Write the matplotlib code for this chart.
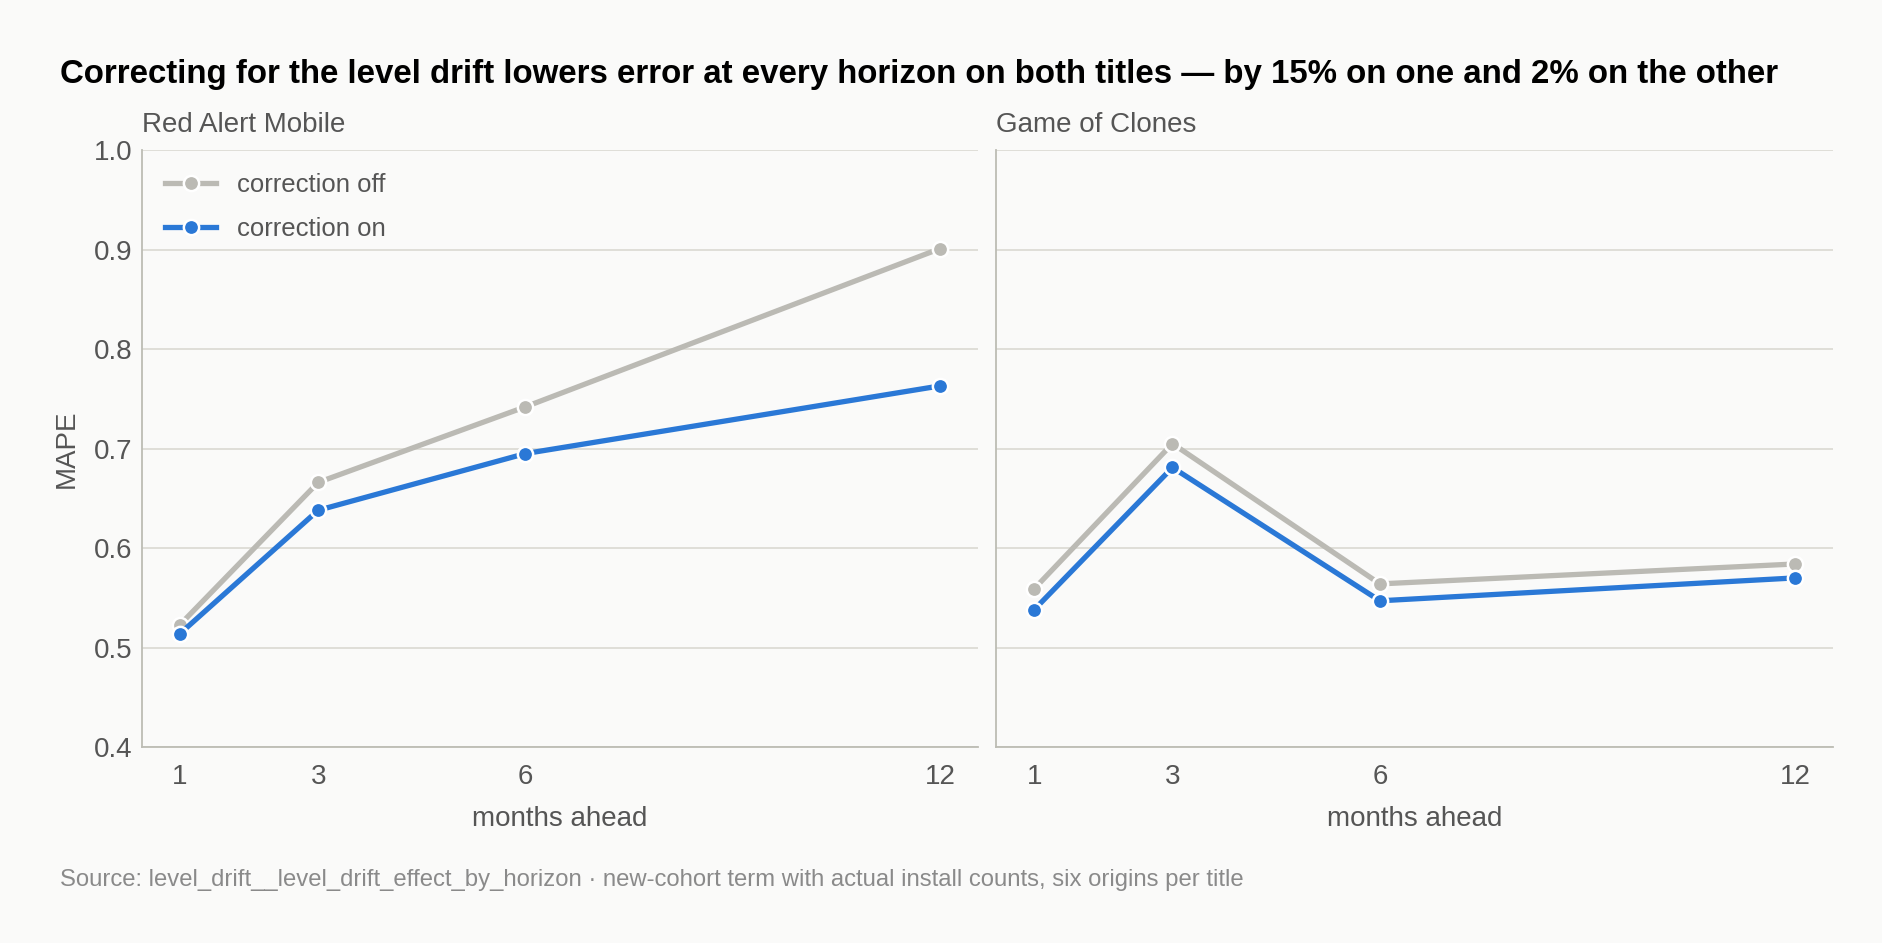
import matplotlib.pyplot as plt

plt.rcParams['font.family'] = ['Liberation Sans', 'DejaVu Sans']

horizons = [1, 3, 6, 12]
titles = ['Red Alert Mobile', 'Game of Clones']
mape_off = {
    'Red Alert Mobile': [0.523, 0.666, 0.742, 0.901],
    'Game of Clones': [0.559, 0.705, 0.564, 0.584],
}
mape_on = {
    'Red Alert Mobile': [0.514, 0.638, 0.695, 0.763],
    'Game of Clones': [0.538, 0.681, 0.547, 0.570],
}
y_ticks = [0.4, 0.5, 0.6, 0.7, 0.8, 0.9, 1.0]

bg = '#fafaf9'
grey = '#bbbab4'
blue = '#2a78d6'
text_col = '#555555'

fig = plt.figure(figsize=(18.83, 9.43), dpi=100, facecolor=bg)
ax_left = fig.add_axes([0.0754, 0.2078, 0.444, 0.633])
ax_right = fig.add_axes([0.529, 0.2078, 0.4444, 0.633])

for ax, name in zip([ax_left, ax_right], titles):
    ax.set_facecolor(bg)
    ax.plot(horizons, mape_off[name], color=grey, lw=3.8, marker='o', ms=11,
            mec='white', mew=1.8, label='correction off', zorder=3)
    ax.plot(horizons, mape_on[name], color=blue, lw=3.8, marker='o', ms=11,
            mec='white', mew=1.8, label='correction on', zorder=4)
    ax.set_xlim(0.45, 12.55)
    ax.set_ylim(0.4, 1.0)
    ax.set_xticks(horizons)
    ax.set_yticks(y_ticks)
    ax.grid(axis='y', color='#dddbd5', lw=1.3)
    ax.set_axisbelow(True)
    for s in ['top', 'right']:
        ax.spines[s].set_visible(False)
    for s in ['left', 'bottom']:
        ax.spines[s].set_color('#bcbcb4')
        ax.spines[s].set_linewidth(1.3)
    ax.tick_params(length=0, labelsize=20, colors=text_col)
    ax.tick_params(axis='x', pad=12)
    ax.tick_params(axis='y', pad=7)
    ax.set_xlabel('months ahead', fontsize=20, color=text_col, labelpad=12)
    ax.set_title(name, loc='left', fontsize=20, color=text_col, pad=13)

ax_left.set_yticklabels([f'{v:.1f}' for v in y_ticks])
ax_right.tick_params(axis='y', labelleft=False)
ax_left.set_ylabel('MAPE', fontsize=20, color=text_col, labelpad=10)

leg = ax_left.legend(loc='upper left', frameon=False, fontsize=18.5,
                     labelcolor=text_col, handlelength=2.0,
                     borderaxespad=0.5, labelspacing=0.75, bbox_to_anchor=(0.0, 1.0))

fig.text(0.032, 0.921, 'Correcting for the level drift lowers error at every horizon on both titles \u2014 '
         'by 15% on one and 2% on the other',
         fontsize=23.8, fontweight='bold', color='black', va='center', ha='left')
fig.text(0.032, 0.067, 'Source: level_drift__level_drift_effect_by_horizon \u00b7 new-cohort term with '
         'actual install counts, six origins per title',
         fontsize=17.2, color='#8a8a8a', va='center', ha='left')

fig.savefig('out.png', dpi=100, facecolor=bg)
